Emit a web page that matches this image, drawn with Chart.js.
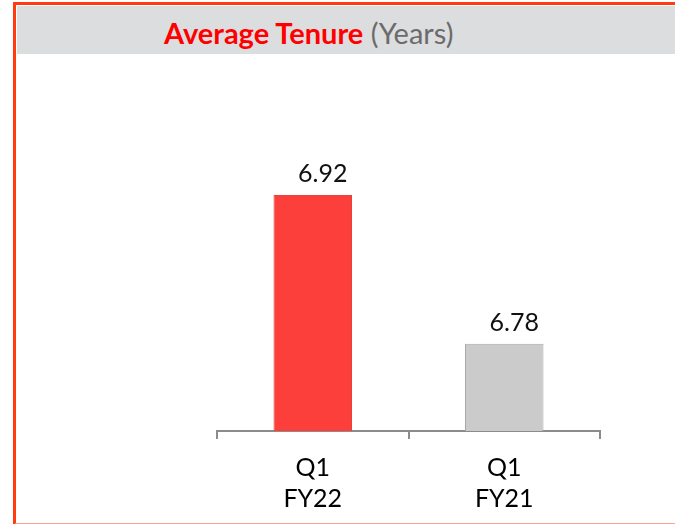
<!DOCTYPE html>
<html>
<head>
<meta charset="utf-8">
<script src="https://cdn.jsdelivr.net/npm/chart.js@4"></script>
<style>
html,body{margin:0;padding:0;background:#fff;width:675px;height:524px;overflow:hidden;font-family:Lato,sans-serif}
.frame{position:absolute;left:13px;top:2px;width:670px;height:518px;border-left:3px solid #FF3B0F;border-top:3px solid #FF3B0F;border-bottom:2px solid #F9A68C}
.head{position:absolute;left:17px;top:6px;right:0;height:48px;background:#DCDDDF}
.title{position:absolute;left:164px;top:18px;font-size:29px;line-height:30px;white-space:nowrap}
.title b{color:#FF0000;font-weight:700}
.title span{color:#6B6B6B}
#c{position:absolute;left:0;top:0}
</style>
</head>
<body>
<div class="frame"></div>
<div class="head"></div>
<div class="title"><b>Average Tenure</b> <span>(Years)</span></div>
<canvas id="c" width="675" height="524"></canvas>
<script>
// periodos y valores
const PERIODS=[['Q1','FY22'],['Q1','FY21']];
const TENURE=[6.92,6.78];
const FILL=['#FD3F3C','#CBCBCB'];
const EDGE=['#E8423C','#A8A8A8'];

// etiqueta de valor arriba de cada barra (un poco corrida a la derecha, como en el original)
const valueLabels={id:'valueLabels',
  afterDatasetsDraw(chart){
    const ctx=chart.ctx;
    ctx.save();
    ctx.font='25px Lato';ctx.fillStyle='#111';ctx.textAlign='center';ctx.textBaseline='alphabetic';
    chart.getDatasetMeta(0).data.forEach((bar,i)=>{
      ctx.fillText(TENURE[i].toFixed(2),bar.x+10,bar.y-13);
    });
    ctx.restore();
  }
};

new Chart(document.getElementById('c'),{type:'bar',
  data:{labels:PERIODS,datasets:[{data:TENURE,backgroundColor:FILL,borderColor:EDGE,borderWidth:1,
    categoryPercentage:1,barPercentage:0.41}]},
  options:{responsive:false,animation:false,devicePixelRatio:1,
    layout:{padding:{left:217,right:75,top:163,bottom:0}},
    plugins:{legend:{display:false},tooltip:{enabled:false}},
    scales:{
      x:{grid:{offset:true,drawOnChartArea:false,drawTicks:true,tickLength:8,color:'#8C8C8C',lineWidth:2},
         border:{display:true,color:'#8C8C8C',width:2},
         ticks:{color:'#000',padding:14,font:{family:'Lato',size:25,lineHeight:1.22}},
         afterFit(s){s.height=93}},
      y:{display:false,min:6.698,max:6.95}
    }
  },
  plugins:[valueLabels]
});
</script>
</body>
</html>
